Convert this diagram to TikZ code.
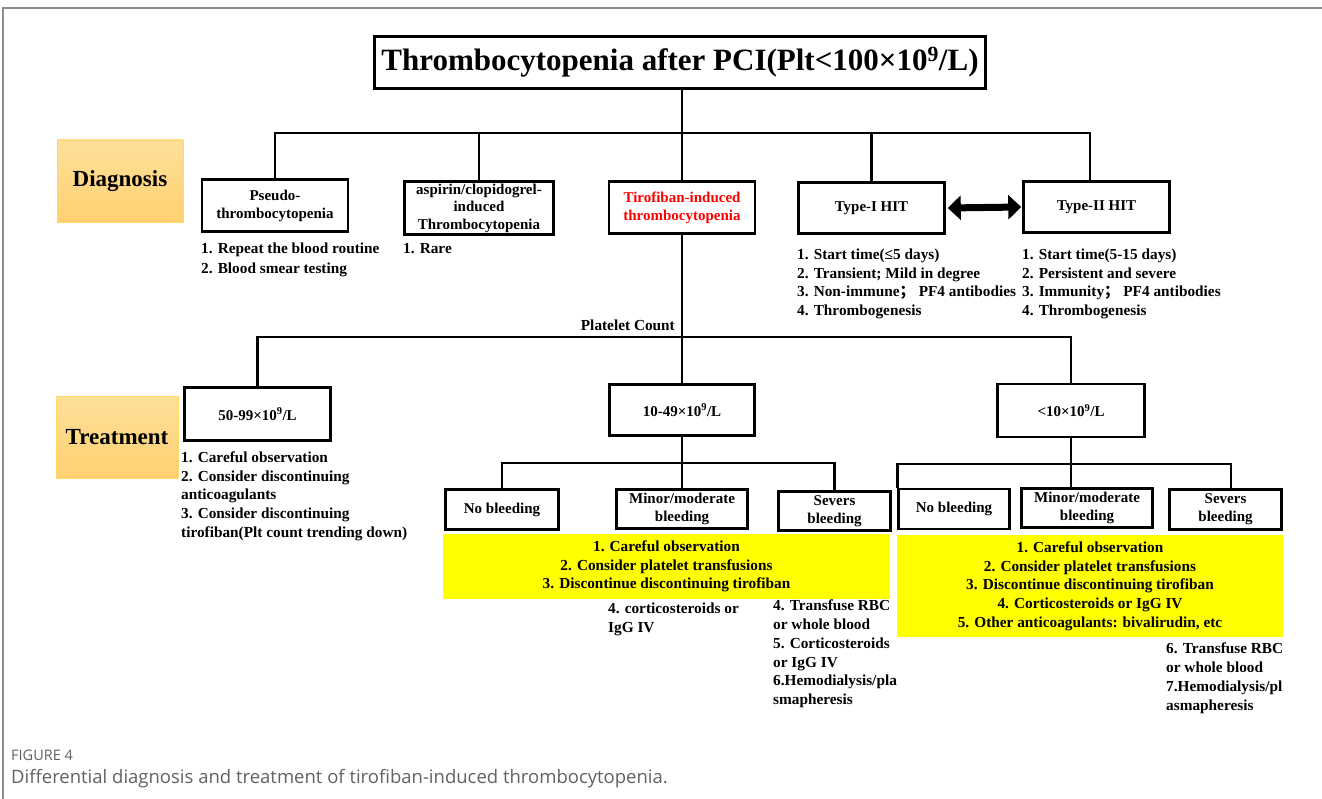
\documentclass[tikz,border=0pt]{standalone}
\usepackage{fontspec}
\setmainfont{Liberation Serif}
\newfontfamily\capfont{Open Sans}
\newfontfamily\cjk{Noto Sans CJK SC}
\usetikzlibrary{arrows.meta}
\definecolor{labtop}{HTML}{FFE09A}
\definecolor{labbot}{HTML}{FFD070}
\definecolor{labline}{HTML}{FFD966}
\definecolor{ylwfill}{HTML}{FFFF00}
\definecolor{redtxt}{HTML}{FF0000}
\definecolor{framegray}{HTML}{8C8C8C}
\begin{document}
\begin{tikzpicture}[x=1pt,y=-1pt,
  bx/.style 2 args={draw, line width=2.6pt, align=center, inner sep=1pt,
    minimum width=#1, minimum height=#2, font=\bfseries\fontsize{15}{18}\selectfont},
  note/.style={anchor=north west, align=left, inner sep=0pt, font=\bfseries\fontsize{15.3}{18.7}\selectfont},
  ylw/.style={fill=ylwfill, align=center, inner sep=0pt, font=\bfseries\fontsize{15.3}{18.7}\selectfont},
  lab/.style={top color=labtop, bottom color=labbot, draw=labline, line width=0.8pt,
    font=\bfseries\fontsize{23}{26}\selectfont},
  conn/.style={line width=2.8pt}]
\useasboundingbox (0,0) rectangle (1322,799);
% frame
\draw[framegray, line width=1.5pt] (3,799) -- (3,8) -- (1322,8);
% title
\node[bx={611}{52}, font=\bfseries\fontsize{31}{34}\selectfont] (title) at (680,62.5)
  {Thrombocytopenia after PCI(Plt<100×10\textsuperscript{9}/L)};
% labels
\node[lab, minimum width=126, minimum height=82] (diag) at (120,181) {Diagnosis};
\node[lab, minimum width=122, minimum height=82] (treat) at (117,437) {Treatment};
% diagnosis boxes
\node[bx={146}{52}] (pseudo) at (275,205.5) {Pseudo-\\thrombocytopenia};
\node[bx={149}{53}, font=\bfseries\fontsize{15}{17.5}\selectfont] (asp) at (479,208) {aspirin/clopidogrel-\\induced\\Thrombocytopenia};
\node[bx={146}{52}, text=redtxt] (tiro) at (682,207.5) {Tirofiban-induced\\thrombocytopenia};
\node[bx={146}{51}] (type1) at (871.5,208) {Type-I HIT};
\node[bx={146}{51}] (type2) at (1096.5,207) {Type-II HIT};
\draw[line width=7pt, {Triangle[length=13pt,width=24pt]}-{Triangle[length=13pt,width=24pt]}]
  ([xshift=2pt]type1.east) -- ([xshift=-1pt]type2.west);
% diagnosis notes
\node[note] (n1) at (201,243) {1. Repeat the blood routine\\[1.3pt]2. Blood smear testing};
\node[note] (n2) at (403,243) {1. Rare};
\node[note] (n3) at (797,248.5) {1. Start time(≤5 days)\\2. Transient; Mild in degree\\3. Non-immune{\cjk ；}\ PF4 antibodies\\4. Thrombogenesis};
\node[note] (n4) at (1022,248.5) {1. Start time(5-15 days)\\2. Persistent and severe\\3. Immunity{\cjk ；}\ PF4 antibodies\\4. Thrombogenesis};
\node[anchor=east, inner sep=0pt, font=\bfseries\fontsize{15.3}{17}\selectfont] (pc) at (675,325) {Platelet Count};
% treatment boxes
\node[bx={146}{53}] (t5099) at (257.5,414) {50-99×10\textsuperscript{9}/L};
\node[bx={145}{51}] (t1049) at (682,410) {10-49×10\textsuperscript{9}/L};
\node[bx={147}{53}] (lt10) at (1071,410.5) {<10×10\textsuperscript{9}/L};
\node[note] (n5) at (181,451.5) {1. Careful observation\\2. Consider discontinuing\\anticoagulants\\3. Consider discontinuing\\tirofiban(Plt count trending down)};
% left group
\node[bx={113}{40}] (nb1) at (502,509.5) {No bleeding};
\node[bx={131}{39}] (mm1) at (682,509) {Minor/moderate\\bleeding};
\node[bx={112}{39}] (sv1) at (834.5,511) {Severs\\bleeding};
\node[ylw, minimum width=447, minimum height=65] (y1) at (666.5,566.5)
  {1. Careful observation\\2. Consider platelet transfusions\\3. Discontinue discontinuing tirofiban};
\node[note] (n6) at (608,603) {4. corticosteroids or\\IgG IV};
\node[note] (n7) at (773,600) {4. Transfuse RBC\\or whole blood\\5. Corticosteroids\\or IgG IV\\6.Hemodialysis/pla\\smapheresis};
% right group
\node[bx={111}{40}] (nb2) at (954,509) {No bleeding};
\node[bx={131}{39}] (mm2) at (1087,508) {Minor/moderate\\bleeding};
\node[bx={112}{40}] (sv2) at (1225.5,509.5) {Severs\\bleeding};
\node[ylw, minimum width=386, minimum height=102] (y2) at (1090,586)
  {1. Careful observation\\2. Consider platelet transfusions\\3. Discontinue discontinuing tirofiban\\4. Corticosteroids or IgG IV\\5. Other anticoagulants: bivalirudin, etc};
\node[note] (n8) at (1166,643) {6. Transfuse RBC\\or whole blood\\7.Hemodialysis/pl\\asmapheresis};
% connectors
\coordinate (j0) at (682,133);
\coordinate (b5) at (1090,133);
\draw[conn] (title.south -| j0) -- (j0);
\draw[conn] (pseudo.north) |- (b5) -- (b5 |- type2.north);
\draw[conn] (asp.north) -- (asp.north |- j0);
\draw[conn] (tiro.north) -- (tiro.north |- j0);
\draw[conn] (type1.north) -- (type1.north |- j0);
\coordinate (j1) at (682,337);
\draw[conn] (tiro.south) -- (t1049.north);
\draw[conn] (t5099.north) |- (j1) -| (lt10.north);
\coordinate (j2) at (682,463);
\draw[conn] (t1049.south) -- (mm1.north);
\draw[conn] (nb1.north) |- (j2) -| (sv1.north);
\coordinate (j3) at (1071,464);
\draw[conn] (lt10.south) -- (lt10.south |- mm2.north);
\draw[conn] (nb2.north west) |- (j3) -| ([xshift=5.5pt]sv2.north);
% caption
\node[anchor=west, inner sep=0pt, font=\capfont\fontsize{14.5}{16}\selectfont, text=black!62] (fig) at (11,755) {FIGURE 4};
\node[anchor=west, inner sep=0pt, font=\capfont\fontsize{18.5}{21}\selectfont, text=black!62] (cap) at (11,779) {Differential diagnosis and treatment of tirofiban-induced thrombocytopenia.};
\end{tikzpicture}
\end{document}
